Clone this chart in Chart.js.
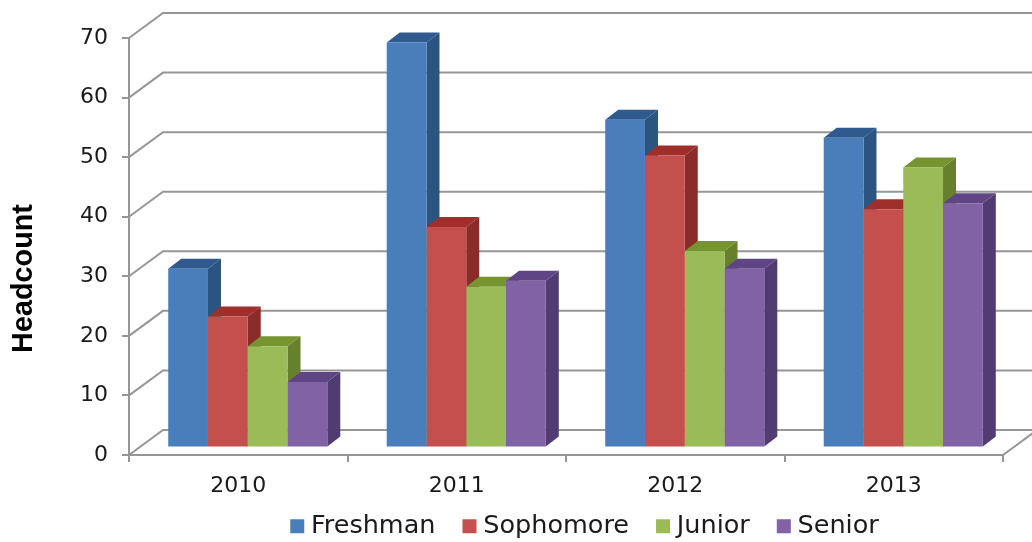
<!DOCTYPE html>
<html>
<head>
<meta charset="utf-8">
<title>Headcount</title>
<script src="https://cdn.jsdelivr.net/npm/chart.js@4"></script>
<style>
  body { margin: 0; background: #fff; }
  canvas { display: block; }
</style>
</head>
<body>
<canvas id="myChart" width="1032" height="542"></canvas>
<script>
const years = ["2010", "2011", "2012", "2013"];
const freshman = [30, 68, 55, 52];
const sophomore = [22, 37, 49, 40];
const junior = [17, 27, 33, 47];
const senior = [11, 28, 30, 41];

const gridColor = "#969696";
const textColor = "#1a1a1a";

// front colour, top face, side face
const blue = ["#4a7ebb", "#2f5a8f", "#2c5480"];
const red = ["#c4504d", "#a02f2c", "#8a2c2a"];
const green = ["#9bbb59", "#76942f", "#66802e"];
const purple = ["#8162a4", "#5f4585", "#503c70"];
const faces = [blue, red, green, purple];

// how far the back wall sits from the axes, and the bars from the axes
const wallX = 34, wallY = 25;
const barX = 9.5, barY = 7.5;
const depthX = 13, depthY = 10;

// excel style 3d: walls and bar sides go under the fronts, fronts are shifted in
const depth3d = {
  id: "depth3d",
  afterLayout(chart) {
    // legend is off-centre in the original
    chart.legend.left += 86;
    chart.legend.right += 86;
    chart.legend.top -= 19.5;
    chart.legend.bottom -= 19.5;
  },
  beforeDatasetsDraw(chart) {
    const ctx = chart.ctx;
    const area = chart.chartArea;
    const yScale = chart.scales.y;

    ctx.save();
    ctx.strokeStyle = gridColor;
    ctx.lineWidth = 2;
    yScale.ticks.forEach((t) => {
      const y = yScale.getPixelForValue(t.value);
      ctx.beginPath();
      ctx.moveTo(area.left, y);
      ctx.lineTo(area.left + wallX, y - wallY);
      ctx.lineTo(chart.width, y - wallY);
      ctx.stroke();
    });
    // floor edge on the right
    ctx.beginPath();
    ctx.moveTo(area.right, area.bottom);
    ctx.lineTo(area.right + wallX, area.bottom - wallY);
    ctx.stroke();

    ctx.translate(barX, -barY);
    chart.data.datasets.forEach((ds, d) => {
      chart.getDatasetMeta(d).data.forEach((bar) => {
        const left = bar.x - bar.width / 2;
        const right = bar.x + bar.width / 2;
        ctx.fillStyle = faces[d][1];
        ctx.beginPath();
        ctx.moveTo(left, bar.y);
        ctx.lineTo(left + depthX, bar.y - depthY);
        ctx.lineTo(right + depthX, bar.y - depthY);
        ctx.lineTo(right, bar.y);
        ctx.fill();
        ctx.fillStyle = faces[d][2];
        ctx.beginPath();
        ctx.moveTo(right, bar.y);
        ctx.lineTo(right + depthX, bar.y - depthY);
        ctx.lineTo(right + depthX, bar.base - depthY);
        ctx.lineTo(right, bar.base);
        ctx.fill();
      });
    });
    // left translated for the bar fronts, put back in afterDatasetsDraw
  },
  afterDatasetsDraw(chart) {
    chart.ctx.restore();
  },
};

function makeSet(label, values, colors) {
  return {
    label: label,
    data: values,
    backgroundColor: colors[0],
    borderWidth: 0,
    clip: false,
    barPercentage: 1,
    categoryPercentage: 0.728,
  };
}

const chart = new Chart(document.getElementById("myChart"), {
  type: "bar",
  data: {
    labels: years,
    datasets: [
      makeSet("Freshman", freshman, blue),
      makeSet("Sophomore", sophomore, red),
      makeSet("Junior", junior, green),
      makeSet("Senior", senior, purple),
    ],
  },
  plugins: [depth3d],
  options: {
    responsive: false,
    animation: false,
    layout: { padding: { top: 38, right: 29, bottom: -26.5, left: 0 } },
    plugins: {
      tooltip: { enabled: false },
      legend: {
        position: "bottom",
        labels: {
          // thin box with a thick stroke, so the text sits close to the square
          boxWidth: 2,
          boxHeight: 2,
          padding: 33,
          color: textColor,
          font: { family: "DejaVu Sans", size: 25.5 },
          generateLabels(chart) {
            return Chart.defaults.plugins.legend.labels.generateLabels(chart).map((item) => {
              item.lineWidth = 12;
              item.strokeStyle = item.fillStyle;
              return item;
            });
          },
        },
      },
    },
    scales: {
      x: {
        afterFit(scale) { scale.height = 45; },
        grid: { drawOnChartArea: false, color: gridColor, lineWidth: 2, tickLength: 7 },
        border: { color: gridColor, width: 2 },
        ticks: { color: textColor, padding: 11, maxRotation: 0, font: { family: "DejaVu Sans", size: 22 } },
      },
      y: {
        min: 0,
        max: 70,
        afterFit(scale) { scale.width = 129; },
        grid: { drawOnChartArea: false, color: gridColor, lineWidth: 2, tickLength: 7 },
        border: { color: gridColor, width: 2 },
        ticks: { stepSize: 10, color: textColor, padding: 14, font: { family: "DejaVu Sans", size: 22 } },
        title: {
          display: true,
          text: "Headcount",
          color: "#000",
          padding: { top: 7, bottom: 0 },
          font: { family: "Liberation Sans", size: 28.8, weight: "bold" },
        },
      },
    },
  },
});

// the axis title sits lower than the middle of the axis in the original
const drawYTitle = chart.scales.y.drawTitle.bind(chart.scales.y);
chart.scales.y.drawTitle = function () {
  chart.ctx.save();
  chart.ctx.translate(0, 32);
  drawYTitle();
  chart.ctx.restore();
};
chart.draw();
</script>
</body>
</html>
